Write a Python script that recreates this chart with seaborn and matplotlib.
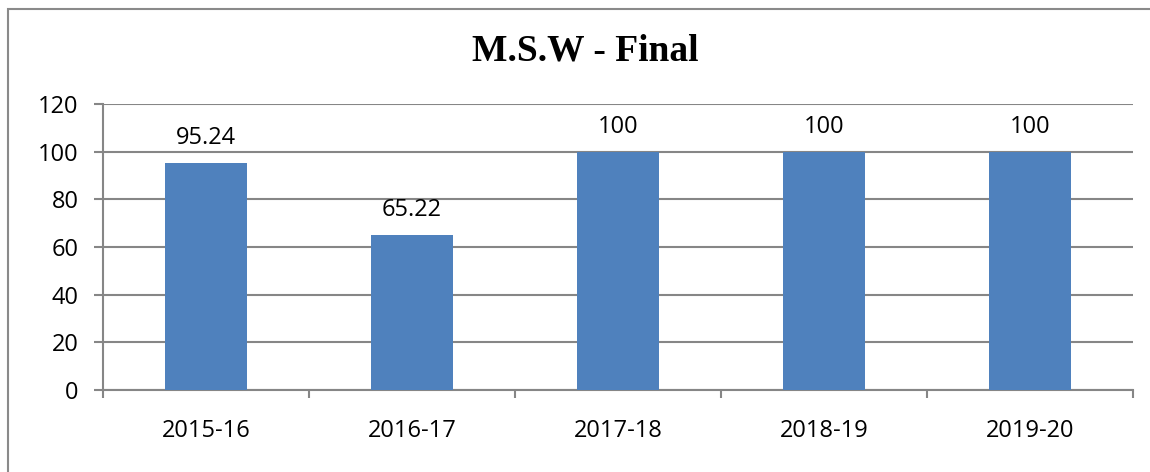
import matplotlib
matplotlib.use("Agg")
import matplotlib.pyplot as plt
from matplotlib.patches import Rectangle
import seaborn as sns
import pandas as pd

years = ["2015-16", "2016-17", "2017-18", "2018-19", "2019-20"]
pass_pct = [95.24, 65.22, 100, 100, 100]
value_labels = ["95.24", "65.22", "100", "100", "100"]
y_ticks = [0, 20, 40, 60, 80, 100, 120]

sns.set_theme(style="white")
plt.rcParams["font.family"] = ["Open Sans", "DejaVu Sans"]
plt.rcParams["text.color"] = "black"

df = pd.DataFrame({"year": years, "pct": pass_pct})

fig = plt.figure(figsize=(11.5, 4.72), dpi=100)
ax = fig.add_axes([103 / 1150, 1 - 390 / 472, 1030 / 1150, 286 / 472])

sns.barplot(data=df, x="year", y="pct", color="#4F81BD", width=0.4,
            saturation=1, linewidth=0, ax=ax, zorder=3)

ax.set_xlim(-0.5, len(years) - 0.5)
ax.set_ylim(0, 120)
ax.set_yticks(y_ticks)
ax.set_xlabel("")
ax.set_ylabel("")

grid_c = "#868686"
ax.yaxis.grid(True, color=grid_c, linewidth=1.5, zorder=0)
ax.xaxis.grid(False)
for side in ["top", "right"]:
    ax.spines[side].set_visible(False)
for side in ["left", "bottom"]:
    ax.spines[side].set_color(grid_c)
    ax.spines[side].set_linewidth(1.5)

ax.tick_params(axis="y", which="major", left=True, length=6.5, width=1.5,
               color=grid_c, pad=11, labelsize=17, labelcolor="black")
ax.tick_params(axis="x", which="major", bottom=False, length=0, pad=21,
               labelsize=17, labelcolor="black")
ax.set_xticks([i - 0.5 for i in range(len(years) + 1)], minor=True)
ax.tick_params(axis="x", which="minor", bottom=True, length=6, width=1.5,
               color=grid_c)

for i, (v, lab) in enumerate(zip(pass_pct, value_labels)):
    ax.annotate(lab, (i, v), xytext=(0, 18), textcoords="offset points",
                ha="center", va="center", fontsize=17, color="black")

fig.text(585 / 1150, 1 - 51 / 472, "M.S.W - Final", ha="center", va="center",
         fontsize=27, fontweight="bold", color="black",
         family=["Liberation Serif", "DejaVu Serif"])

# outer frame of the chart area
fig.patches.append(Rectangle((8 / 1150, -0.1), 1.5, (472 - 9) / 472 + 0.1,
                             transform=fig.transFigure, fill=False,
                             edgecolor="#8a8a8a", linewidth=1.5))

fig.savefig("out.png", dpi=100)
